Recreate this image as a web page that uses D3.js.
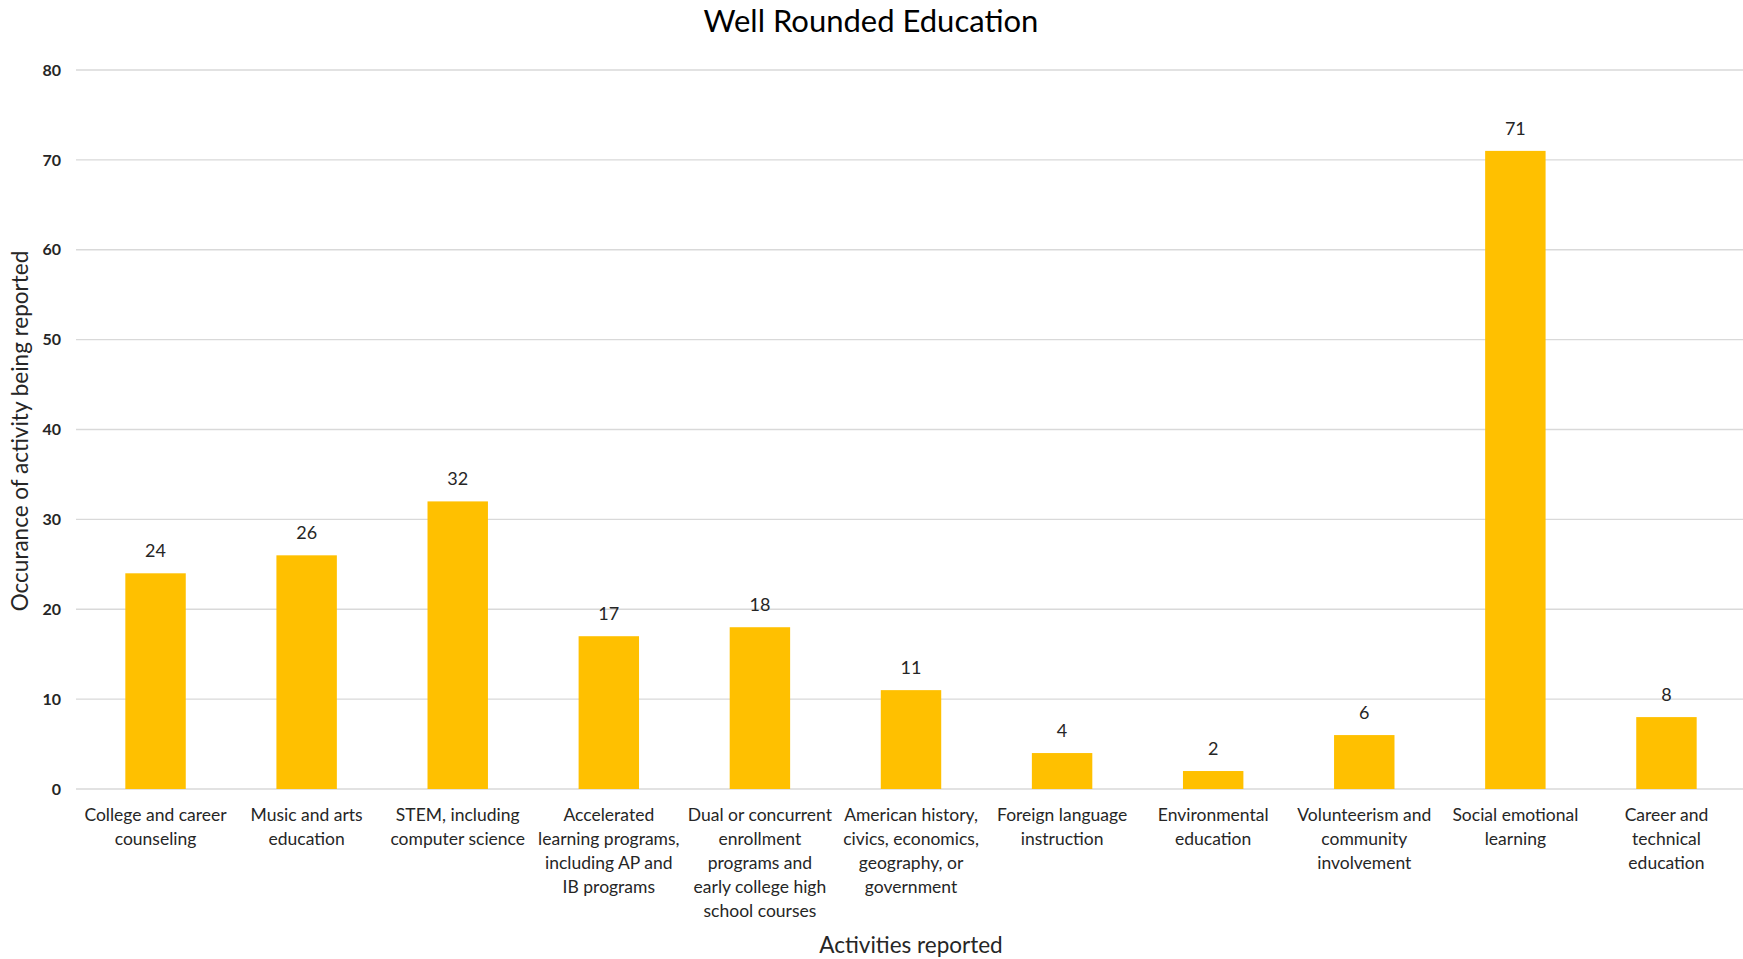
<!DOCTYPE html>
<html><head><meta charset="utf-8">
<script src="https://cdn.jsdelivr.net/npm/d3@7"></script>
<style>body{margin:0;background:#fff}svg{display:block}text{font-family:Lato,"Open Sans",sans-serif}</style>
</head><body>
<svg id="chart" width="1743" height="959"></svg>
<script>
const categories = [
  ["College and career","counseling"],
  ["Music and arts","education"],
  ["STEM, including","computer science"],
  ["Accelerated","learning programs,","including AP and","IB programs"],
  ["Dual or concurrent","enrollment","programs and","early college high","school courses"],
  ["American history,","civics, economics,","geography, or","government"],
  ["Foreign language","instruction"],
  ["Environmental","education"],
  ["Volunteerism and","community","involvement"],
  ["Social emotional","learning"],
  ["Career and","technical","education"]
];
const values = [24, 26, 32, 17, 18, 11, 4, 2, 6, 71, 8];
const yTicks = [0, 10, 20, 30, 40, 50, 60, 70, 80];
const title = "Well Rounded Education";
const xTitle = "Activities reported";
const yTitle = "Occurance of activity being reported";

const svg = d3.select("#chart");
const W = 1743, H = 959;
const x = d3.scaleBand().domain(d3.range(values.length)).range([80, 1742]).paddingInner(0.6).paddingOuter(0.3);
const y = d3.scaleLinear().domain([0, 80]).range([789, 70]);

// gridlines
svg.append("g").selectAll("line").data(yTicks).join("line")
  .attr("x1", 76).attr("x2", W).attr("y1", d => y(d)).attr("y2", d => y(d))
  .attr("stroke", "#d9d9d9").attr("stroke-width", 1.3);

// y axis labels
const yAxis = d3.axisLeft(y).tickValues(yTicks).tickSize(0).tickPadding(0);
const ga = svg.append("g").attr("transform", `translate(${61},0)`).call(yAxis);
ga.select(".domain").remove();
ga.selectAll("text").attr("font-size", 16).attr("font-weight", "bold").attr("fill", "#262626")
  .style("font-family", "Lato, sans-serif");

// bars
svg.append("g").selectAll("rect").data(values).join("rect")
  .attr("x", (d, i) => x(i)).attr("width", x.bandwidth())
  .attr("y", d => y(d)).attr("height", d => y(0) - y(d))
  .attr("fill", "#ffc000");

// data labels
svg.append("g").selectAll("text").data(values).join("text")
  .attr("x", (d, i) => x(i) + x.bandwidth() / 2).attr("y", d => y(d) - 16)
  .attr("text-anchor", "middle").attr("font-size", 18).attr("fill", "#262626").text(d => d);

// category labels
const cl = svg.append("g").selectAll("text").data(categories).join("text")
  .attr("text-anchor", "middle").attr("font-size", 17.5).attr("fill", "#262626")
  .attr("transform", (d, i) => `translate(${x(i) + x.bandwidth() / 2},821)`);
cl.selectAll("tspan").data(d => d).join("tspan")
  .attr("x", 0).attr("dy", (d, j) => j === 0 ? 0 : 24).text(d => d);

// titles
svg.append("text").attr("x", 871).attr("y", 32).attr("text-anchor", "middle")
  .attr("font-size", 31).attr("fill", "#000").text(title);
svg.append("text").attr("x", 911).attr("y", 953).attr("text-anchor", "middle")
  .attr("font-size", 22.5).attr("fill", "#262626").text(xTitle);
svg.append("text").attr("transform", "translate(28,431) rotate(-90)").attr("text-anchor", "middle")
  .attr("font-size", 22.5).attr("fill", "#262626").text(yTitle);
</script>
</body></html>
